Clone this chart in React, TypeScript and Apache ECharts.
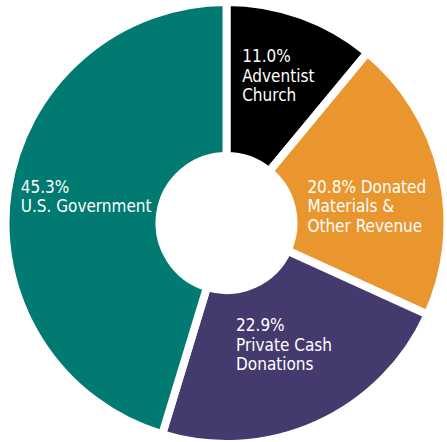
import React, { useEffect, useRef } from "react";
import * as echarts from "echarts";

const categories = ["Adventist Church", "Donated Materials & Other Revenue", "Private Cash Donations", "U.S. Government"];
const values = [11.0, 20.8, 22.9, 45.3];
const labelLines = [
  ["{p}", "Adventist", "Church"],
  ["{p} Donated", "Materials &", "Other Revenue"],
  ["{p}", "Private Cash", "Donations"],
  ["{p}", "U.S. Government"],
];
const colors = ["#000000", "#EA962F", "#453A6E", "#017A72"];
const labelOffsets = [
  [2, -9],
  [-3, 16],
  [-3, -12],
  [5, -5],
];

const FONT = "'Liberation Sans Narrow', 'DejaVu Sans Condensed', 'DejaVu Sans', sans-serif";

export default function App() {
  const ref = useRef<HTMLDivElement>(null);
  useEffect(() => {
    if (!ref.current) return;
    const chart = echarts.init(ref.current, null, { renderer: "svg" });
    chart.setOption({
      animation: false,
      backgroundColor: "#ffffff",
      series: [
        {
          type: "pie",
          center: [226.5, 223],
          radius: [67, 221],
          startAngle: 90,
          clockwise: true,
          silent: true,
          itemStyle: { borderColor: "#ffffff", borderWidth: 8 },
          label: {
            show: true,
            position: "inside",
            color: "#ffffff",
            fontFamily: FONT,
            fontSize: 17,
            lineHeight: 19.5,
            formatter: (p: any) =>
              labelLines[p.dataIndex]
                .map((l) => "{a|" + l.replace("{p}", values[p.dataIndex].toFixed(1) + "%") + "}")
                .join("\n"),
            rich: {
              a: {
                align: "left",
                color: "#ffffff",
                fontFamily: FONT,
                fontSize: 17,
                lineHeight: 19.5,
              },
            },
          },
          labelLine: { show: false },
          data: values.map((v, i) => ({
            value: v,
            name: categories[i],
            itemStyle: { color: colors[i] },
            label: { offset: labelOffsets[i] },
          })),
        },
      ],
    });
    return () => chart.dispose();
  }, []);
  return <div ref={ref} style={{ position: "absolute", left: 0, top: 0, width: 447, height: 442 }} />;
}
